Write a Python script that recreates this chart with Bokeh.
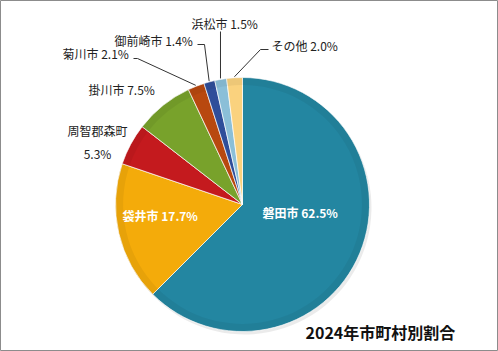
import math
from bokeh.plotting import figure
from bokeh.models import Range1d
from bokeh.core.properties import value
from bokeh.embed import file_html
from bokeh.resources import INLINE

# ---- data ----
names = ["磐田市", "袋井市", "周智郡森町", "掛川市", "菊川市", "御前崎市", "浜松市", "その他"]
shares = [62.5, 17.7, 5.3, 7.5, 2.1, 1.4, 1.5, 2.0]
colors = ["#2386a1", "#f4ab0a", "#c41a1e", "#78a22b", "#b8480f", "#2f4e9a", "#8bbfd8", "#fad27e"]
title = "2024年市町村別割合"

W, H = 498, 351
FONT = "Noto Sans CJK JP"

p = figure(width=W, height=H, output_backend="svg", toolbar_location=None,
           x_range=Range1d(0, W), y_range=Range1d(0, H), min_border=0)
p.axis.visible = False
p.grid.visible = False
p.outline_line_color = "#8c8c8c"
p.outline_line_width = 1
p.background_fill_color = "white"
p.border_fill_color = "white"

def Y(py):
    return H - py

cx, cy, r = 242, Y(204), 127
total = sum(shares)
starts, ends, mids = [], [], []
cum = 0.0
for s in shares:
    a0 = math.pi / 2 - 2 * math.pi * cum / total
    cum += s
    a1 = math.pi / 2 - 2 * math.pi * cum / total
    starts.append(a0)
    ends.append(a1)
    mids.append((a0 + a1) / 2)

# subtle shadow
p.wedge(x=[cx + 2 for _ in shares], y=[cy - 3 for _ in shares], radius=r, start_angle=starts,
        end_angle=ends, direction="clock", fill_color="#000000", fill_alpha=0.08, line_color=None)
p.wedge(x=[cx] * len(shares), y=[cy] * len(shares), radius=r, start_angle=starts, end_angle=ends,
        direction="clock", fill_color=colors, line_color="#ffffff", line_alpha=0.7, line_width=1)
# light shading near the rim
p.annular_wedge(x=[cx] * len(shares), y=[cy] * len(shares), inner_radius=r * 0.94, outer_radius=r,
                start_angle=starts, end_angle=ends, direction="clock",
                fill_color="#000000", fill_alpha=0.05, line_color=None)

def fmt(i):
    return f"{names[i]} {shares[i]:.1f}%"

# inside labels (white bold)
p.text(x=[262], y=[Y(212)], text=[fmt(0)], text_color="white", text_font=value(FONT),
       text_font_style="bold", text_font_size="12px", text_baseline="middle", text_align="left")
p.text(x=[122], y=[Y(215)], text=[fmt(1)], text_color="white", text_font=value(FONT),
       text_font_style="bold", text_font_size="12px", text_baseline="middle", text_align="left")

# outside labels
outside = [  # (index, x, y_pixel)
    (3, 88, 89),
    (4, 62, 53),
    (5, 114, 40),
    (6, 191, 23),
    (7, 271, 45),
]
for i, x, py in outside:
    p.text(x=[x], y=[Y(py)], text=[fmt(i)], text_color="#222222", text_font=value(FONT),
           text_font_size="12px", text_baseline="middle", text_align="left")
p.text(x=[97], y=[Y(130)], text=[names[2]], text_color="#222222", text_font=value(FONT),
       text_font_size="12px", text_baseline="middle", text_align="center")
p.text(x=[97], y=[Y(153)], text=[f"{shares[2]:.1f}%"], text_color="#222222", text_font=value(FONT),
       text_font_size="12px", text_baseline="middle", text_align="center")

# leader lines
def edge(i, rr=r + 1):
    return cx + rr * math.cos(mids[i]), cy + rr * math.sin(mids[i])

leaders = [  # (index, label-end x, label-end y_pixel, elbow x)
    (4, 133, 58, 137),
    (5, 197, 44, 204),
    (7, 268, 49, 260),
]
for i, lx, ly, ex in leaders:
    x1, y1 = edge(i)
    p.line(x=[lx, ex, x1], y=[Y(ly), Y(ly), y1], line_color="#333333", line_width=1)
x1, y1 = edge(6)
p.line(x=[x1, x1], y=[Y(31), y1], line_color="#333333", line_width=1)

# title
p.text(x=[305], y=[Y(331)], text=[title], text_color="#111111", text_font=value(FONT),
       text_font_style="bold", text_font_size="16px", text_baseline="middle", text_align="left")

open("out.html", "w").write(file_html(p, INLINE))
